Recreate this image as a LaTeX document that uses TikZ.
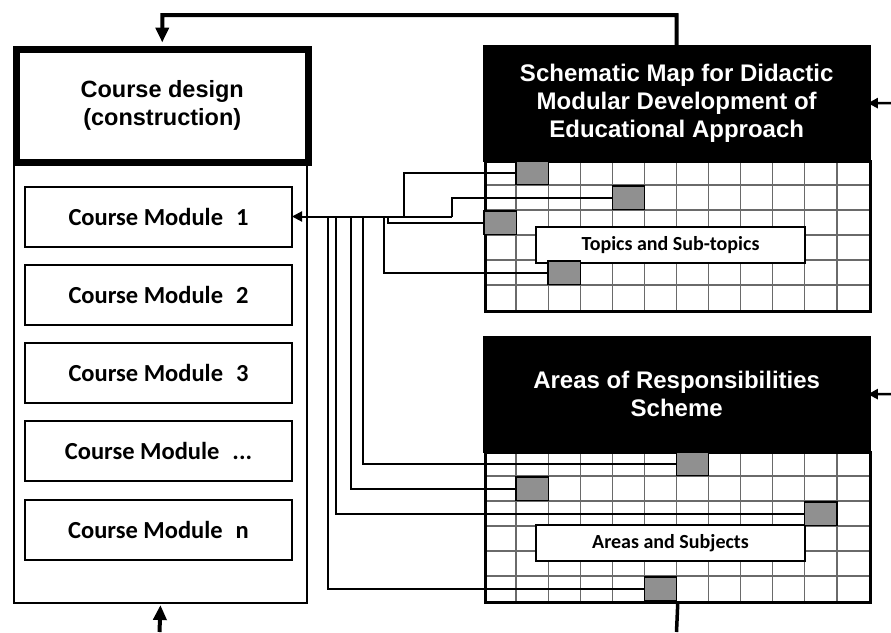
\documentclass[tikz,border=0pt]{standalone}
\usepackage{fontspec}
\setmainfont{Liberation Sans}
\newfontfamily\bodyfont{Carlito}
\usetikzlibrary{arrows.meta}
\definecolor{cellgray}{HTML}{909090}
\definecolor{rulegray}{HTML}{6A6A6A}

\begin{document}
\begin{tikzpicture}[x=1pt, y=-1pt,
  frame/.style={draw, line width=2pt, inner sep=0pt},
  module/.style={draw, line width=2pt, minimum width=267pt, minimum height=60pt,
    inner sep=0pt, font=\bodyfont\bfseries\fontsize{24.5}{28}\selectfont},
  header/.style={fill=black, text=white, minimum width=385pt, minimum height=114pt,
    inner sep=0pt, align=center, font=\bfseries\fontsize{24}{28}\selectfont},
  gridframe/.style={draw, line width=2.5pt, minimum width=385pt, minimum height=150pt, inner sep=0pt},
  gridline/.style={draw=rulegray, line width=1.2pt},
  cell/.style={draw, line width=1.4pt, fill=cellgray, minimum width=31pt, minimum height=22pt, inner sep=0pt},
  tag/.style={draw, fill=white, line width=2pt, minimum width=269pt, minimum height=36pt,
    inner sep=0pt, font=\bodyfont\bfseries\fontsize{20}{24}\selectfont},
  link/.style={line width=2pt},
  feed/.style={line width=4pt, -{Triangle[length=15pt,width=13pt]}},
  inarrow/.style={line width=2.5pt, -{Triangle[length=10pt,width=10pt]}},
]
\useasboundingbox (0,0) rectangle (891,632);

% left column: course design and its modules
\node[frame, anchor=north west, minimum width=293pt, minimum height=552pt] (container) at (13,50) {};
\node[draw, line width=6.5pt, fill=white, anchor=north west, minimum width=292pt, minimum height=113pt,
  inner sep=0pt, align=center, font=\bfseries\fontsize{23.5}{29}\selectfont] (design) at (13,46)
  {\raisebox{-3pt}{\begin{tabular}{@{}c@{}}Course design\\[-1pt](construction)\end{tabular}}};
\node[module] (m1) at (158.5,216.5) {Course Module\hspace{13pt}1};
\node[module] (m2) at (158.5,294.8) {Course Module\hspace{13pt}2};
\node[module] (m3) at (158.5,373.1) {Course Module\hspace{13pt}3};
\node[module] (m4) at (158.5,451.4) {Course Module\hspace{13pt}...};
\node[module] (m5) at (158.5,529.7) {Course Module\hspace{13pt}n};

% right column: the two schemes with their grids
\node[header, anchor=north west] (hdr1) at (484,46)
  {Schematic Map for Didactic\\Modular Development of\\Educational Approach};
\node[header, anchor=north west] (hdr2) at (484,337)
  {Areas of Responsibilities\\Scheme};

\foreach \top in {160,451} {
  \foreach \i in {1,...,11} { \draw[gridline] (484+32.083*\i,\top) -- (484+32.083*\i,\top+150); }
  \foreach \j in {1,...,5} { \draw[gridline] (484,\top+25*\j) -- (869,\top+25*\j); }
}
\node[gridframe, anchor=north west] (grid1) at (484,160) {};
\node[gridframe, anchor=north west] (grid2) at (484,451) {};
\draw[line width=2.5pt] (hdr1.north west) rectangle (hdr1.south east);
\draw[line width=2.5pt] (hdr2.north west) rectangle (hdr2.south east);

% marked cells
\node[cell] (s1) at (532.1,172.5) {};
\node[cell] (s2) at (628.4,197.5) {};
\node[cell] (s3) at (500.0,222.5) {};
\node[cell] (s4) at (564.2,272.5) {};
\node[cell] (sA) at (692.5,463.5) {};
\node[cell] (sB) at (532.1,488.5) {};
\node[cell] (sC) at (820.9,513.5) {};
\node[cell] (sD) at (660.5,588.5) {};

\node[tag] (topics) at (670.5,245) {Topics and Sub-topics};
\node[tag] (areas) at (670.5,543) {Areas and Subjects};

% junctions on the trunk line that feeds module 1
\coordinate (t1) at (404,216.5);
\coordinate (t2) at (452,216.5);
\coordinate (t3) at (388,216.5);
\coordinate (t4) at (384,216.5);
\coordinate (tA) at (363,216.5);
\coordinate (tB) at (351,216.5);
\coordinate (tC) at (336,216.5);
\coordinate (tD) at (328,216.5);

\draw[link] (s1.west) -| (t1);
\draw[link] (s2.west) -| (t2);
\draw[link] (s3.west) -| (t3);
\draw[link] (s4.west) -| (t4);
\draw[link] (sA.west) -| (tA);
\draw[link] (sB.west) -| (tB);
\draw[link] (sC.west) -| (tC);
\draw[link] (sD.west) -| (tD);
\draw[link, -{Triangle[length=10pt,width=10pt]}, shorten >=-1pt] (t2) -- (m1.east);

% redraw cells above their connectors
\foreach \c in {s1,s2,s3,s4,sA,sB,sC,sD} {
  \draw[line width=1.4pt, fill=cellgray] (\c.north west) rectangle (\c.south east);
}

% feedback loops
\coordinate (fbk) at (676.5,15);
\draw[feed, shorten >=3.5pt] (hdr1.north) -- (fbk) -| (design.north);
\coordinate (bot1) at (676.5,632);
\coordinate (bot2) at (159.5,632);
\draw[line width=3.5pt] (grid2.south) -- (bot1);
\draw[feed, shorten >=1pt] (bot2) -- (container.south);

% incoming arrows on the right
\coordinate (in1) at (891,103);
\coordinate (in2) at (891,394);
\draw[inarrow, shorten >=-1.5pt] (in1) -- (hdr1.east);
\draw[inarrow, shorten >=-1.5pt] (in2) -- (hdr2.east);
\end{tikzpicture}
\end{document}
